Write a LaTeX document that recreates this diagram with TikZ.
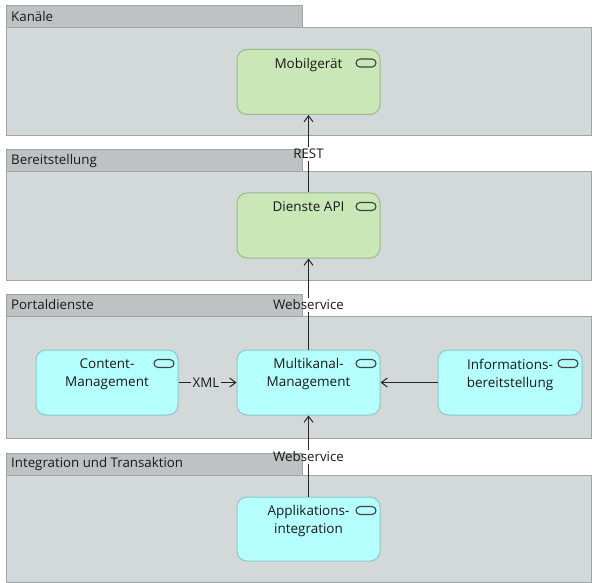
\documentclass[tikz,border=0pt]{standalone}
\usepackage{fontspec}
\setmainfont{Open Sans}
\usetikzlibrary{arrows.meta}
\definecolor{grpbody}{RGB}{211,216,216}
\definecolor{grptab}{RGB}{191,194,194}
\definecolor{grpline}{RGB}{160,164,164}
\definecolor{techfill}{RGB}{201,231,183}
\definecolor{techline}{RGB}{155,185,140}
\definecolor{appfill}{RGB}{181,255,255}
\definecolor{appline}{RGB}{140,200,200}
\definecolor{txt}{RGB}{25,25,25}
\tikzset{
  grpb/.style={draw=grpline,fill=grpbody,line width=1pt},
  grpt/.style={draw=grpline,fill=grptab,line width=1pt},
  grptitle/.style={anchor=west,inner sep=0pt,font=\fontsize{13.3}{15}\selectfont,text=txt},
  techbox/.style={draw=techline,fill=techfill,line width=1pt,rounded corners=10pt,minimum width=143pt,minimum height=65pt,inner sep=0pt},
  appbox/.style={draw=appline,fill=appfill,line width=1pt,rounded corners=10pt,minimum width=143pt,minimum height=65pt,inner sep=0pt},
  boxtext/.style={anchor=north,align=center,inner sep=0pt,font=\fontsize{13.5}{18}\selectfont,text=txt},
  svcicon/.style={draw=black!75,line width=1.1pt,rounded corners=4pt,minimum width=20pt,minimum height=8pt,inner sep=0pt},
  conn/.style={draw=black!85,line width=1pt},
  arr/.style={conn,-{Straight Barb[length=6pt,width=9pt]}},
  lbl/.style={inner sep=1.5pt,font=\fontsize{13.3}{15}\selectfont,text=txt},
}
\begin{document}
\begin{tikzpicture}[x=1pt,y=-1pt]
\useasboundingbox (0,0) rectangle (592,583);
% groups
\path[grpb] (6,28) rectangle (591.5,136);
\path[grpt] (6,6) rectangle (302,28);
\node[grptitle] (gk) at (11,17) {Kanäle};
\path[grpb] (6,172) rectangle (591.5,280);
\path[grpt] (6,150) rectangle (302,172);
\node[grptitle] (gb) at (11,161) {Bereitstellung};
\path[grpb] (6,316) rectangle (591.5,438);
\path[grpt] (6,294) rectangle (302,316);
\node[grptitle] (gp) at (11,305) {Portaldienste};
\path[grpb] (6,475) rectangle (591.5,582);
\path[grpt] (6,453) rectangle (302,475);
\node[grptitle] (gi) at (11,464) {Integration und Transaktion};
% elements
\node[techbox] (mobil) at (308.5,82) {};
\node[techbox] (dapi) at (308.5,225.5) {};
\node[appbox,minimum width=142pt] (content) at (107,382.5) {};
\node[appbox] (multi) at (308.5,382.5) {};
\node[appbox,minimum width=144pt] (info) at (510,382.5) {};
\node[appbox,minimum height=64pt] (appint) at (308.5,529) {};
% texts
\node[boxtext] (mobilt) at ([yshift=-9pt]mobil.north) {Mobilgerät};
\node[boxtext] (dapit) at ([yshift=-9pt]dapi.north) {Dienste API};
\node[boxtext] (contentt) at ([yshift=-9pt]content.north) {Content-\\Management};
\node[boxtext] (multit) at ([yshift=-9pt]multi.north) {Multikanal-\\Management};
\node[boxtext] (infot) at ([yshift=-9pt]info.north) {Informations-\\bereitstellung};
\node[boxtext] (appintt) at ([yshift=-9pt]appint.north) {Applikations-\\integration};
% service icons
\foreach \n in {mobil,dapi,content,multi,info,appint}{
  \node[svcicon] (\n-icon) at ([xshift=-14.5pt,yshift=-14pt]\n.north east) {};
}
% connectors
\node[lbl] (rest) at (308.5,154) {REST};
\draw[conn] (dapi) -- (rest);
\draw[arr] (rest) -- (mobil);
\node[lbl] (ws1) at (308.5,305) {Webservice};
\draw[conn] (multi) -- (ws1);
\draw[arr] (ws1) -- (dapi);
\node[lbl] (ws2) at (308.5,457) {Webservice};
\draw[conn] (appint) -- (ws2);
\draw[arr] (ws2) -- (multi);
\node[lbl] (xml) at (206,382.5) {XML};
\draw[conn] (content) -- (xml);
\draw[arr] (xml) -- (multi);
\draw[arr] (info) -- (multi);
\end{tikzpicture}
\end{document}
